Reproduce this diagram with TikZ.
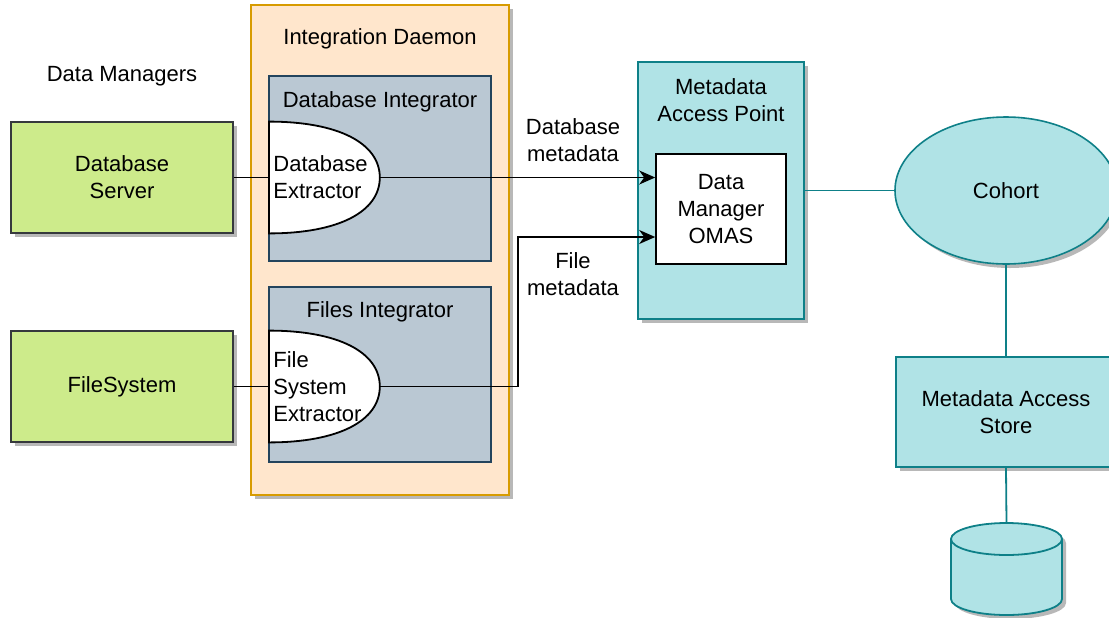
\documentclass[tikz,border=0pt]{standalone}
\usepackage{fontspec}
\setmainfont{Liberation Sans}
\usepackage{tikz}
\usetikzlibrary{arrows.meta,shapes.geometric,shadows,calc}

\definecolor{mgrfill}{HTML}{CDEB8B}
\definecolor{mgrline}{HTML}{36393D}
\definecolor{daefill}{HTML}{FFE6CC}
\definecolor{daeline}{HTML}{D79B00}
\definecolor{intfill}{HTML}{BAC8D3}
\definecolor{intline}{HTML}{23445D}
\definecolor{mapfill}{HTML}{B0E3E6}
\definecolor{mapline}{HTML}{0E8088}

\begin{document}
\begin{tikzpicture}[x=0.5pt, y=-0.5pt, >={Stealth[length=8pt,width=7pt,inset=2.5pt]},
    every node/.style={font=\fontsize{11}{13.5}\selectfont, align=center},
    dropsh/.style={drop shadow={shadow xshift=2pt, shadow yshift=-2pt, fill=black!28, opacity=1}},
    box/.style={draw, line width=0.8pt, inner sep=0pt},
    mgr/.style={box, dropsh, fill=mgrfill, draw=mgrline, minimum width=111pt, minimum height=55.5pt},
    integ/.style={box, fill=intfill, draw=intline, minimum width=111pt},
    teal/.style={box, dropsh, fill=mapfill, draw=mapline},
    link/.style={line width=0.9pt},
    tlink/.style={line width=0.9pt, draw=mapline}]
    \useasboundingbox (0,0) rectangle (1109,617);
    \clip (0,0) rectangle (1109,617);

    % Data managers
    \node (mgrtitle) at (122,76) {Data Managers};
    \node[mgr] (dbserver) at (122,177.5) {Database\\Server};
    \node[mgr] (filesys) at (122,386.5) {FileSystem};

    % Integration daemon
    \node[box, dropsh, fill=daefill, draw=daeline, minimum width=129pt, minimum height=245pt] (daemon) at (380,250) {};
    \node (daetitle) at (380,39) {Integration Daemon};

    % Integrators
    \node[integ, minimum height=92.5pt] (dbint) at (380,168.5) {};
    \node (dbinttitle) at (380,102) {Database Integrator};
    \node[integ, minimum height=87.5pt] (fsint) at (380,374.5) {};
    \node (fsinttitle) at (380,312) {Files Integrator};

    % Extractors
    \node[inner sep=0pt, minimum width=55pt, minimum height=55.5pt, anchor=west] (dbext) at (269,177.5) {};
    \filldraw[fill=white, link] (dbext.south west) -- (dbext.north west)
        .. controls +(35pt,0) and +(0,17pt) .. (dbext.east)
        .. controls +(0,-17pt) and +(35pt,0) .. (dbext.south west) -- cycle;
    \node[anchor=west, align=left, inner sep=2pt] (dbexttxt) at (dbext.west) {Database\\Extractor};

    \node[inner sep=0pt, minimum width=55pt, minimum height=55.5pt, anchor=west] (fsext) at (269,386.5) {};
    \filldraw[fill=white, link] (fsext.south west) -- (fsext.north west)
        .. controls +(35pt,0) and +(0,17pt) .. (fsext.east)
        .. controls +(0,-17pt) and +(35pt,0) .. (fsext.south west) -- cycle;
    \node[anchor=west, align=left, inner sep=2pt] (fsexttxt) at (fsext.west) {File\\System\\Extractor};

    % Metadata access point
    \node[teal, minimum width=83pt, minimum height=128.5pt] (map) at (721,190.5) {};
    \node (maptitle) at (721,100) {Metadata\\Access Point};
    \node[box, fill=white, minimum width=65pt, minimum height=55pt] (omas) at (721,209) {Data\\Manager\\OMAS};

    % Cohort and store
    \node[teal, ellipse, minimum width=111pt, minimum height=73.5pt] (cohort) at (1006,190.5) {Cohort};
    \node[teal, minimum width=110pt, minimum height=55pt] (store) at (1006,412) {Metadata Access\\Store};

    % Repository
    \filldraw[fill=mapfill, draw=mapline, link, dropsh] (951,539) -- (951,599)
        arc[start angle=180, end angle=360, x radius=27.75pt, y radius=8pt] -- (1062,539)
        arc[start angle=0, end angle=180, x radius=27.75pt, y radius=8pt] -- cycle;
    \draw[draw=mapline, link] (951,539) arc[start angle=180, end angle=360, x radius=27.75pt, y radius=8pt];
    \coordinate (dbtop) at (1006.5,523);

    % Labels
    \node (dblabel) at (573,140.5) {Database\\metadata};
    \node (fslabel) at (573,274) {File\\metadata};

    % Connectors
    \draw[link] (dbserver.east) -- (dbext.west);
    \draw[link] (filesys.east) -- (fsext.west);
    \draw[link, ->] (dbext.east) -- (dbext.east -| omas.west);
    \coordinate (fsbend) at (518,237);
    \draw[link, ->] (fsext.east) -| (fsbend) -- (fsbend -| omas.west);
    \draw[tlink] (map.east) -- (cohort.west);
    \draw[tlink] (cohort.south) -- (store.north);
    \draw[tlink] (store.south) -- (dbtop);

\end{tikzpicture}
\end{document}
